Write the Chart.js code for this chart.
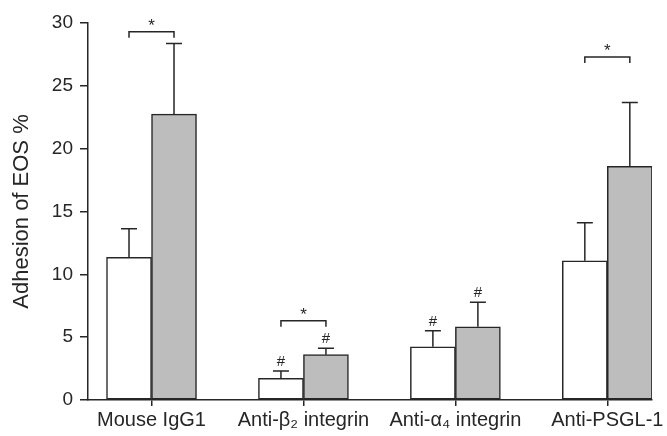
<!DOCTYPE html>
<html>
<head>
<meta charset="utf-8">
<script src="https://cdn.jsdelivr.net/npm/chart.js@4.4.1/dist/chart.umd.min.js"></script>
<style>
  html, body { margin: 0; padding: 0; background: #fff; }
  #wrap { width: 667px; height: 436px; }
</style>
</head>
<body>
<div id="wrap"><canvas id="mycanvas"></canvas></div>
<script>
// groups on the x axis
var groups = ['Mouse IgG1', 'Anti-\u03b2\u2082 integrin', 'Anti-\u03b1\u2084 integrin', 'Anti-PSGL-1'];
// white bars / grey bars
var whiteVals = [11.35, 1.72, 4.24, 11.08];
var whiteErr  = [2.28, 0.59, 1.27, 3.02];
var greyVals  = [22.75, 3.61, 5.83, 18.6];
var greyErr   = [5.62, 0.50, 1.94, 5.08];
// '#' marks above error bars
var whiteHash = [false, true, true, false];
var greyHash  = [false, true, true, false];
// '*' brackets: group index and bracket height
var starGroups = [0, 1, 3];
var starLevels = [29.3, 6.3, 27.3];
var yTicks = [0, 5, 10, 15, 20, 25, 30];

var font = '"Liberation Sans", Arial, Helvetica, sans-serif';
var ink = '#262626';

function points(vals) {
	var out = [];
	for (var i in vals) out.push({x: Number(i), y: vals[i]});
	return out;
}

var marks = {
	id: 'marks',
	afterDatasetsDraw: function(chart) {
		var ctx = chart.ctx;
		var y = chart.scales.y;
		var sets = [[whiteVals, whiteErr, whiteHash], [greyVals, greyErr, greyHash]];
		ctx.save();
		ctx.strokeStyle = ink;
		ctx.fillStyle = ink;
		ctx.lineWidth = 1.5;
		ctx.textAlign = 'center';
		ctx.textBaseline = 'alphabetic';
		sets.forEach(function(s, d) {
			chart.getDatasetMeta(d).data.forEach(function(bar, i) {
				var top = y.getPixelForValue(s[0][i] + s[1][i]);
				ctx.beginPath();
				ctx.moveTo(bar.x, bar.y);
				ctx.lineTo(bar.x, top);
				ctx.moveTo(bar.x - 8, top);
				ctx.lineTo(bar.x + 8, top);
				ctx.stroke();
				if (s[2][i]) {
					ctx.font = '15px ' + font;
					ctx.fillText('#', bar.x, top - 5);
				}
			});
		});
		starGroups.forEach(function(g, k) {
			var a = chart.getDatasetMeta(0).data[g].x;
			var b = chart.getDatasetMeta(1).data[g].x;
			var ly = y.getPixelForValue(starLevels[k]);
			ctx.beginPath();
			ctx.moveTo(a, ly + 6);
			ctx.lineTo(a, ly);
			ctx.lineTo(b, ly);
			ctx.lineTo(b, ly + 6);
			ctx.stroke();
			ctx.font = '17px ' + font;
			ctx.fillText('*', (a + b) / 2, ly - 1);
		});
		ctx.restore();
	}
};

var chartdata = {
	datasets: [
		{
			label: 'white',
			data: points(whiteVals),
			backgroundColor: '#ffffff',
			borderColor: ink,
			borderWidth: 1.5,
			borderSkipped: false
		},
		{
			label: 'grey',
			data: points(greyVals),
			backgroundColor: '#bdbdbd',
			borderColor: ink,
			borderWidth: 1.5,
			borderSkipped: false
		}
	]
};

var ctx = document.getElementById('mycanvas');

var barGraph = new Chart(ctx, {
	type: 'bar',
	data: chartdata,
	plugins: [marks],
	options: {
		responsive: true,
		maintainAspectRatio: false,
		animation: false,
		barThickness: 45,
		layout: { padding: { top: 23, right: 15, left: 0, bottom: 0 } },
		plugins: { legend: { display: false }, tooltip: { enabled: false } },
		scales: {
			x: {
				type: 'linear',
				offset: false,
				min: -0.418,
				max: 3.294,
				afterBuildTicks: function(s) {
					s.ticks = groups.map(function(g, i) { return {value: i}; });
				},
				afterFit: function(s) { s.height = 36; },
				ticks: {
					color: ink,
					font: { family: font, size: 20 },
					padding: 2,
					maxRotation: 0,
					autoSkip: false,
					callback: function(v) { return groups[v]; }
				},
				grid: { offset: false, drawOnChartArea: false, tickLength: 6, color: ink, lineWidth: 1.5 },
				border: { color: ink, width: 1.5 }
			},
			y: {
				min: 0,
				max: 30,
				afterBuildTicks: function(s) {
					s.ticks = yTicks.map(function(v) { return {value: v}; });
				},
				afterFit: function(s) { s.width = 88; },
				ticks: {
					color: ink,
					font: { family: font, size: 19 },
					padding: 7
				},
				grid: { drawOnChartArea: false, tickLength: 8, color: ink, lineWidth: 1.5 },
				border: { color: ink, width: 1.5 },
				title: {
					display: true,
					text: 'Adhesion of EOS %',
					color: ink,
					font: { family: font, size: 22 },
					padding: { top: 9, bottom: 0 }
				}
			}
		}
	}
});
</script>
</body>
</html>
